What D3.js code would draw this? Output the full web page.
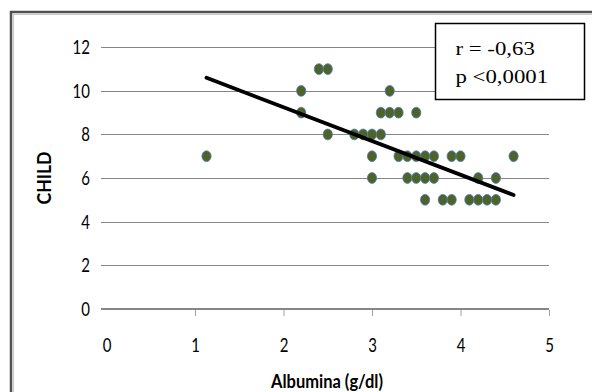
<!DOCTYPE html>
<html>
<head>
<meta charset="utf-8">
<script src="https://cdn.jsdelivr.net/npm/d3@7"></script>
<style>
  body { margin: 0; background: #fff; }
  svg { display: block; }
</style>
</head>
<body>
<svg class="chart"></svg>
<script>
// albumina (g/dl) vs CHILD score
const albumina = [1.13, 2.2, 2.2, 2.4, 2.5, 2.5,
  2.8, 2.9, 3.0, 3.1, 3.0, 3.0,
  3.1, 3.2, 3.3, 3.5, 3.2,
  3.3, 3.4, 3.5, 3.6, 3.7, 3.9, 4.0, 4.6,
  3.4, 3.5, 3.6, 3.7, 4.2, 4.4,
  3.6, 3.8, 3.9, 4.1, 4.2, 4.3, 4.4]
const child = [7, 10, 9, 11, 11, 8,
  8, 8, 8, 8, 7, 6,
  9, 9, 9, 9, 10,
  7, 7, 7, 7, 7, 7, 7, 7,
  6, 6, 6, 6, 6, 6,
  5, 5, 5, 5, 5, 5, 5]
const xTicks = [0, 1, 2, 3, 4, 5]
const yTicks = [0, 2, 4, 6, 8, 10, 12]
// trend line ends, as drawn in the picture
const trendX = [1.13, 4.6]
const trendY = [10.6, 5.22]
const statLines = ["r = -0,63", "p <0,0001"]

const width = 592, height = 392
const tickFont = "Lato, 'Open Sans', sans-serif"
const svg = d3.select(".chart").attr("width", width).attr("height", height)

const x = d3.scaleLinear().domain([0, 5]).range([106.5, 549])
const y = d3.scaleLinear().domain([0, 12]).range([308.7, 47.3])

// outer frame, runs off the right and bottom of the picture
svg.append("rect")
    .attr("x", 11).attr("y", 12)
    .attr("width", 700).attr("height", 500)
    .attr("fill", "none")
    .attr("stroke", "#505050")
    .attr("stroke-width", 2.5)
svg.append("rect")
    .attr("x", 13.5).attr("y", 14.5)
    .attr("width", 700).attr("height", 500)
    .attr("fill", "none")
    .attr("stroke", "#c8c8c8")
    .attr("stroke-width", 1)

// gridlines
svg.selectAll(".grid")
    .data(yTicks.filter(d => d > 0))
    .enter()
    .append("line")
    .attr("x1", 101).attr("x2", x(5))
    .attr("y1", d => Math.round(y(d)) + 0.5)
    .attr("y2", d => Math.round(y(d)) + 0.5)
    .attr("stroke", "#868686")
    .attr("stroke-width", 1)

// x axis
const xAxis = d3.axisBottom(x).tickValues(xTicks).tickFormat(d3.format("d"))
    .tickSize(7).tickPadding(0)
const gx = svg.append("g")
    .attr("transform", `translate(0,${Math.round(y(0))})`)
    .call(xAxis)
gx.select(".domain").attr("stroke", "#868686").attr("stroke-width", 2)
    .attr("d", `M101,0H${x(5)}`)
gx.selectAll(".tick line").attr("stroke", "#a0a0a0").attr("y1", 1)
gx.selectAll(".tick:first-of-type line").remove()
gx.selectAll("text")
    .attr("fill", "#000")
    .attr("y", 0).attr("dy", 0)
    .attr("transform", "translate(0,43) scale(1,1.22)")
    .style("font-family", tickFont)
    .style("font-size", "15px")

// y axis labels
const yAxis = d3.axisLeft(y).tickValues(yTicks).tickSize(0).tickPadding(11)
const gy = svg.append("g")
    .attr("transform", "translate(101,0)")
    .call(yAxis)
gy.select(".domain").remove()
gy.selectAll("text")
    .attr("fill", "#000")
    .attr("dy", 0)
    .attr("transform", "translate(0,6.5) scale(1,1.22)")
    .style("font-family", tickFont)
    .style("font-size", "15px")

// points
svg.selectAll(".dot")
    .data(albumina)
    .enter()
    .append("ellipse")
    .attr("cx", d => x(d))
    .attr("cy", (d, i) => y(child[i]))
    .attr("rx", 4.6)
    .attr("ry", 5.4)
    .attr("fill", "#4f6228")
    .attr("stroke", "#4a7ebb")
    .attr("stroke-width", 0.8)

// trend line
svg.append("line")
    .attr("x1", x(trendX[0])).attr("y1", y(trendY[0]))
    .attr("x2", x(trendX[1])).attr("y2", y(trendY[1]))
    .attr("stroke", "#000")
    .attr("stroke-width", 3.8)
    .attr("stroke-linecap", "round")

// stats box
svg.append("rect")
    .attr("x", 435.5).attr("y", 23.5)
    .attr("width", 149).attr("height", 76)
    .attr("fill", "#fff")
    .attr("stroke", "#000")
    .attr("stroke-width", 1.5)
svg.selectAll(".stat")
    .data(statLines)
    .enter()
    .append("text")
    .attr("transform", (d, i) => `translate(455.5,${55 + i * 28}) scale(1.2,1)`)
    .text(d => d)
    .style("font-family", "'Liberation Serif', 'Times New Roman', serif")
    .style("font-size", "19px")

// axis titles
svg.append("text")
    .attr("transform", "translate(327,388) scale(1,1.15)")
    .attr("text-anchor", "middle")
    .style("font-family", tickFont)
    .style("font-size", "16.5px")
    .style("font-weight", "bold")
    .text("Albumina (g/dl)")
svg.append("text")
    .attr("transform", "translate(51,178) rotate(-90) scale(1.1,1.15)")
    .attr("text-anchor", "middle")
    .style("font-family", tickFont)
    .style("font-size", "16px")
    .style("font-weight", "bold")
    .text("CHILD")
</script>
</body>
</html>
